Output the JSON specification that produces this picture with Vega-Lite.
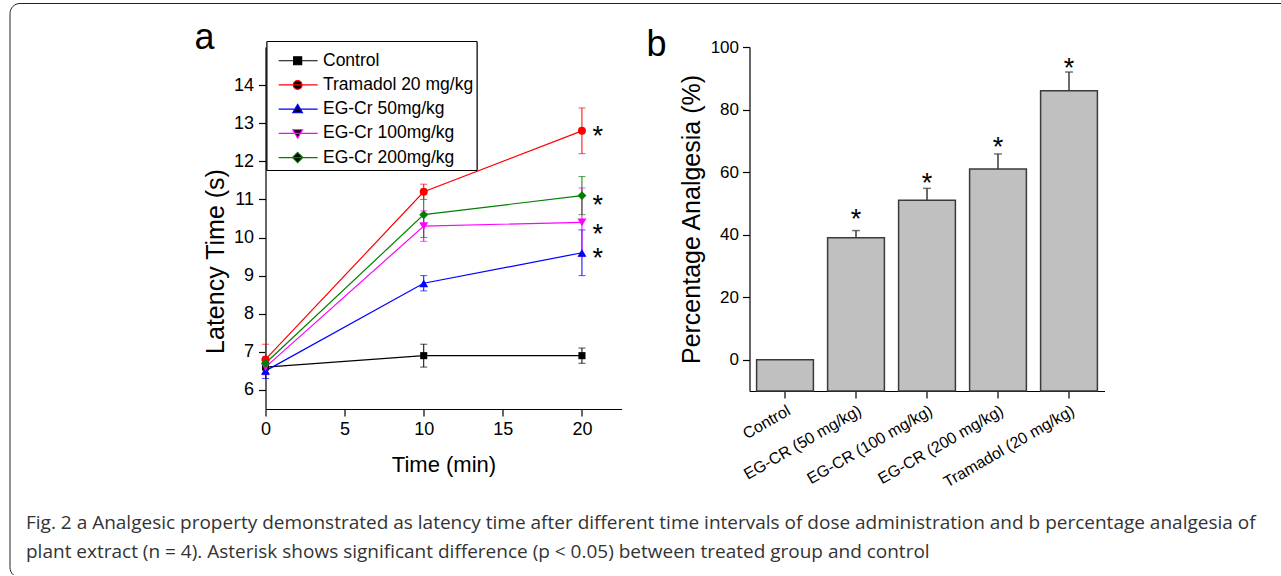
{
  "$schema": "https://vega.github.io/schema/vega-lite/v6.json",
  "background": "white",
  "padding": {"left": 8.5, "top": 2, "right": -9, "bottom": -3},
  "bounds": "flush",
  "spacing": 128,
  "config": {
    "view": {"stroke": null},
    "font": "Liberation Sans",
    "axis": {"domainColor": "black", "tickColor": "black", "labelColor": "black", "titleColor": "black", "titleFontWeight": "normal", "grid": false, "domainWidth": 1.2, "tickWidth": 1.2, "labelFont": "Liberation Sans", "titleFont": "Liberation Sans"}
  },
  "title": {
    "text": ["Fig. 2 a Analgesic property demonstrated as latency time after different time intervals of dose administration and b percentage analgesia of", "plant extract (n = 4). Asterisk shows significant difference (p < 0.05) between treated group and control"],
    "orient": "bottom", "anchor": "start", "font": "Open Sans", "fontSize": 19, "fontWeight": "normal", "color": "#333333", "lineHeight": 29, "offset": -64, "dx": 17
  },
  "datasets": {
    "lat": [
      {"series": "Control", "time": 0, "mean": 6.6, "lo": 6.55, "hi": 6.65},
      {"series": "Control", "time": 10, "mean": 6.9, "lo": 6.6, "hi": 7.2},
      {"series": "Control", "time": 20, "mean": 6.9, "lo": 6.7, "hi": 7.1},
      {"series": "Tramadol 20 mg/kg", "time": 0, "mean": 6.8, "lo": 6.4, "hi": 7.2},
      {"series": "Tramadol 20 mg/kg", "time": 10, "mean": 11.2, "lo": 11.0, "hi": 11.4},
      {"series": "Tramadol 20 mg/kg", "time": 20, "mean": 12.8, "lo": 12.2, "hi": 13.4},
      {"series": "EG-Cr 50mg/kg", "time": 0, "mean": 6.5, "lo": 6.3, "hi": 6.7},
      {"series": "EG-Cr 50mg/kg", "time": 10, "mean": 8.8, "lo": 8.6, "hi": 9.0},
      {"series": "EG-Cr 50mg/kg", "time": 20, "mean": 9.6, "lo": 9.0, "hi": 10.2},
      {"series": "EG-Cr 100mg/kg", "time": 0, "mean": 6.6, "lo": 6.45, "hi": 6.75},
      {"series": "EG-Cr 100mg/kg", "time": 10, "mean": 10.3, "lo": 9.9, "hi": 10.7},
      {"series": "EG-Cr 100mg/kg", "time": 20, "mean": 10.4, "lo": 9.5, "hi": 11.3},
      {"series": "EG-Cr 200mg/kg", "time": 0, "mean": 6.7, "lo": 6.55, "hi": 6.85},
      {"series": "EG-Cr 200mg/kg", "time": 10, "mean": 10.6, "lo": 10.0, "hi": 11.2},
      {"series": "EG-Cr 200mg/kg", "time": 20, "mean": 11.1, "lo": 10.6, "hi": 11.6}
    ],
    "stars": [
      {"series": "Tramadol 20 mg/kg", "time": 21, "star": 12.77},
      {"series": "EG-Cr 200mg/kg", "time": 21, "star": 10.96},
      {"series": "EG-Cr 100mg/kg", "time": 21, "star": 10.2},
      {"series": "EG-Cr 50mg/kg", "time": 21, "star": 9.57}
    ],
    "pct": [
      {"group": "Control", "value": 0, "hi": null, "star": null},
      {"group": "EG-CR (50 mg/kg)", "value": 39, "hi": 41.3, "star": 46.3},
      {"group": "EG-CR (100 mg/kg)", "value": 51, "hi": 54.8, "star": 57.8},
      {"group": "EG-CR (200 mg/kg)", "value": 61, "hi": 65.8, "star": 69.6},
      {"group": "Tramadol (20 mg/kg)", "value": 86, "hi": 92, "star": 94.6}
    ]
  },
  "hconcat": [
    {
      "width": 356,
      "height": 362,
      "title": {"text": "a", "anchor": "start", "frame": "bounds", "font": "Liberation Sans", "fontSize": 36, "fontWeight": "normal", "color": "black", "offset": 0, "dy": 16, "dx": -9},
      "data": {"name": "lat"},
      "layer": [
        {
          "mark": {"type": "line", "strokeWidth": 1.2},
          "encoding": {
            "x": {"field": "time", "type": "quantitative", "scale": {"domain": [0, 22.5], "nice": false, "zero": false},
              "axis": {"title": "Time (min)", "titleFontSize": 22, "labelFontSize": 18, "values": [0, 2.5, 5, 7.5, 10, 12.5, 15, 17.5, 20, 22.5],
                "labelExpr": "datum.value % 5 === 0 ? format(datum.value, 'd') : ''",
                "tickSize": {"condition": {"test": "datum.value % 5 === 0", "value": 7}, "value": 4},
                "labelFlush": false, "labelOverlap": false, "labelPadding": 4, "titlePadding": 16}},
            "y": {"field": "mean", "type": "quantitative", "scale": {"domain": [5.5, 15], "nice": false, "zero": false},
              "axis": {"title": "Latency Time (s)", "titleFontSize": 25, "labelFontSize": 18, "values": [6, 6.5, 7, 7.5, 8, 8.5, 9, 9.5, 10, 10.5, 11, 11.5, 12, 12.5, 13, 13.5, 14, 14.5],
                "labelExpr": "datum.value % 1 === 0 ? format(datum.value, 'd') : ''",
                "tickSize": {"condition": {"test": "datum.value % 1 === 0", "value": 7}, "value": 4},
                "labelOverlap": false, "labelPadding": 5, "titlePadding": 5, "titleY": 214}},
            "color": {"field": "series", "type": "nominal", "scale": {"domain": ["Tramadol 20 mg/kg", "Control", "EG-Cr 50mg/kg", "EG-Cr 100mg/kg", "EG-Cr 200mg/kg"], "range": ["#ff0000", "#000000", "#0000ff", "#ff00ff", "#008000"]}, "legend": null}
          }
        },
        {
          "mark": {"type": "rule", "strokeWidth": 1},
          "encoding": {
            "x": {"field": "time", "type": "quantitative"},
            "y": {"field": "lo", "type": "quantitative"},
            "y2": {"field": "hi"},
            "color": {"field": "series", "type": "nominal", "legend": null}
          }
        },
        {
          "mark": {"type": "tick", "orient": "horizontal", "size": 7, "thickness": 1},
          "encoding": {
            "x": {"field": "time", "type": "quantitative"},
            "y": {"field": "hi", "type": "quantitative"},
            "color": {"field": "series", "type": "nominal", "legend": null}
          }
        },
        {
          "mark": {"type": "tick", "orient": "horizontal", "size": 7, "thickness": 1},
          "encoding": {
            "x": {"field": "time", "type": "quantitative"},
            "y": {"field": "lo", "type": "quantitative"},
            "color": {"field": "series", "type": "nominal", "legend": null}
          }
        },
        {
          "transform": [{"filter": "datum.series === 'Control'"}],
          "mark": {"type": "point", "filled": true, "size": 50, "opacity": 1, "shape": "square"},
          "encoding": {
            "x": {"field": "time", "type": "quantitative"},
            "y": {"field": "mean", "type": "quantitative"},
            "color": {"field": "series", "type": "nominal", "legend": null}
          }
        },
        {
          "transform": [{"filter": "datum.series === 'Tramadol 20 mg/kg'"}],
          "mark": {"type": "point", "filled": true, "size": 64, "opacity": 1, "shape": "circle"},
          "encoding": {
            "x": {"field": "time", "type": "quantitative"},
            "y": {"field": "mean", "type": "quantitative"},
            "color": {"field": "series", "type": "nominal", "legend": null}
          }
        },
        {
          "transform": [{"filter": "datum.series === 'EG-Cr 50mg/kg'"}],
          "mark": {"type": "point", "filled": true, "size": 80, "opacity": 1, "shape": "triangle-up"},
          "encoding": {
            "x": {"field": "time", "type": "quantitative"},
            "y": {"field": "mean", "type": "quantitative"},
            "color": {"field": "series", "type": "nominal", "legend": null}
          }
        },
        {
          "transform": [{"filter": "datum.series === 'EG-Cr 100mg/kg'"}],
          "mark": {"type": "point", "filled": true, "size": 80, "opacity": 1, "shape": "triangle-down"},
          "encoding": {
            "x": {"field": "time", "type": "quantitative"},
            "y": {"field": "mean", "type": "quantitative"},
            "color": {"field": "series", "type": "nominal", "legend": null}
          }
        },
        {
          "transform": [{"filter": "datum.series === 'EG-Cr 200mg/kg'"}],
          "mark": {"type": "point", "filled": true, "size": 80, "opacity": 1, "shape": "diamond"},
          "encoding": {
            "x": {"field": "time", "type": "quantitative"},
            "y": {"field": "mean", "type": "quantitative"},
            "color": {"field": "series", "type": "nominal", "legend": null}
          }
        },
        {
          "transform": [{"filter": "datum.time === 0"}],
          "mark": {"type": "point", "opacity": 0, "strokeWidth": 1.2},
          "encoding": {
            "x": {"field": "time", "type": "quantitative"},
            "y": {"field": "mean", "type": "quantitative"},
            "fill": {"field": "series", "type": "nominal", "scale": {"domain": ["Control", "Tramadol 20 mg/kg", "EG-Cr 50mg/kg", "EG-Cr 100mg/kg", "EG-Cr 200mg/kg"], "range": ["#000000", "#ff0000", "#0000ff", "#ff00ff", "#008000"]},
              "legend": {"orient": "none", "legendX": 1, "legendY": -6, "title": " ", "titleFontSize": 2, "titlePadding": 6, "labelFontSize": 17.5, "labelFont": "Liberation Sans", "labelColor": "black", "labelOffset": 36, "labelLimit": 300, "rowPadding": 5.2, "padding": 3, "strokeColor": "black", "fillColor": "white", "symbolSize": 64, "symbolStrokeWidth": 1.2, "symbolOpacity": 1}},
            "stroke": {"field": "series", "type": "nominal", "scale": {"domain": ["Control", "Tramadol 20 mg/kg", "EG-Cr 50mg/kg", "EG-Cr 100mg/kg", "EG-Cr 200mg/kg"], "range": ["#000000", "#ff0000", "#0000ff", "#ff00ff", "#008000"]},
              "legend": {"orient": "none", "legendX": 1, "legendY": -6, "title": " ", "titleFontSize": 2, "titlePadding": 6, "labelFontSize": 17.5, "labelFont": "Liberation Sans", "labelColor": "black", "labelOffset": 36, "labelLimit": 300, "rowPadding": 5.2, "padding": 3, "strokeColor": "black", "fillColor": "white", "symbolSize": 64, "symbolStrokeWidth": 1.2, "symbolOpacity": 1}},
            "shape": {"field": "series", "type": "nominal", "scale": {"domain": ["Control", "Tramadol 20 mg/kg", "EG-Cr 50mg/kg", "EG-Cr 100mg/kg", "EG-Cr 200mg/kg"], "range": ["M0.1,0H9.85M3.85,-1H5.85V1H3.85Z", "M0.1,0H9.85M3.75,0A1.1,1.1,0,1,0,5.95,0A1.1,1.1,0,1,0,3.75,0Z", "M0.1,0H9.85M4.85,-1.2L6.05,0.9H3.65Z", "M0.1,0H9.85M4.85,1.2L6.05,-0.9H3.65Z", "M0.1,0H9.85M4.85,-1.3L6.15,0L4.85,1.3L3.55,0Z"]},
              "legend": {"orient": "none", "legendX": 1, "legendY": -6, "title": " ", "titleFontSize": 2, "titlePadding": 6, "labelFontSize": 17.5, "labelFont": "Liberation Sans", "labelColor": "black", "labelOffset": 36, "labelLimit": 300, "rowPadding": 5.2, "padding": 3, "strokeColor": "black", "fillColor": "white", "symbolSize": 64, "symbolStrokeWidth": 1.2, "symbolOpacity": 1}}
          }
        },
        {
          "data": {"name": "stars"},
          "mark": {"type": "text", "text": "*", "fontSize": 27, "dy": 5.5, "color": "black", "font": "Liberation Sans"},
          "encoding": {
            "x": {"field": "time", "type": "quantitative"},
            "y": {"field": "star", "type": "quantitative"}
          }
        }
      ]
    },
    {
      "width": 355,
      "height": 344,
      "title": {"text": "b", "anchor": "start", "frame": "group", "font": "Liberation Sans", "fontSize": 36, "fontWeight": "normal", "color": "black", "offset": 0, "dy": 61, "dx": -103},
      "data": {"name": "pct"},
      "layer": [
        {
          "mark": {"type": "bar", "fill": "#c0c0c0", "stroke": "#3a3a3a", "strokeWidth": 1.5},
          "encoding": {
            "x": {"field": "group", "type": "nominal", "sort": null, "scale": {"paddingInner": 0.2, "paddingOuter": 0.1},
              "axis": {"title": null, "labelAngle": -30, "labelFontSize": 16, "tickSize": 7, "labelPadding": 4}},
            "y": {"field": "value", "type": "quantitative", "scale": {"domain": [-10, 100], "nice": false, "zero": false},
              "axis": {"title": "Percentage Analgesia (%)", "titleFontSize": 25, "labelFontSize": 17, "values": [0, 10, 20, 30, 40, 50, 60, 70, 80, 90, 100],
                "labelExpr": "datum.value % 20 === 0 ? format(datum.value, 'd') : ''",
                "tickSize": {"condition": {"test": "datum.value % 20 === 0", "value": 7}, "value": 4},
                "labelOverlap": false, "labelPadding": 4, "titlePadding": 6}},
            "y2": {"datum": -10}
          }
        },
        {
          "transform": [{"filter": "datum.hi != null"}],
          "mark": {"type": "rule", "stroke": "#3a3a3a", "strokeWidth": 1.5},
          "encoding": {
            "x": {"field": "group", "type": "nominal", "sort": null},
            "y": {"field": "value", "type": "quantitative"},
            "y2": {"field": "hi"}
          }
        },
        {
          "transform": [{"filter": "datum.hi != null"}],
          "mark": {"type": "tick", "orient": "horizontal", "size": 8, "thickness": 1.5, "color": "#3a3a3a"},
          "encoding": {
            "x": {"field": "group", "type": "nominal", "sort": null},
            "y": {"field": "hi", "type": "quantitative"}
          }
        },
        {
          "transform": [{"filter": "datum.star != null"}],
          "mark": {"type": "text", "text": "*", "fontSize": 27, "dy": 5.5, "color": "black", "font": "Liberation Sans"},
          "encoding": {
            "x": {"field": "group", "type": "nominal", "sort": null},
            "y": {"field": "star", "type": "quantitative"}
          }
        },
        {
          "mark": {"type": "point", "opacity": 0},
          "encoding": {
            "x": {"field": "group", "type": "nominal", "sort": null},
            "y": {"field": "value", "type": "quantitative"},
            "fill": {"field": "value", "type": "quantitative", "scale": {"range": ["rgba(255,255,255,0)", "rgba(255,255,255,0)"]},
              "legend": {"orient": "none", "legendX": -740, "legendY": -44, "direction": "horizontal", "gradientLength": 1281, "gradientThickness": 573, "gradientStrokeWidth": 0, "gradientOpacity": 0, "title": null, "labelExpr": "''", "labelFontSize": 1, "labelOffset": 0, "padding": 0, "strokeColor": "#222222", "cornerRadius": 10}}
          }
        }
      ]
    }
  ]
}
